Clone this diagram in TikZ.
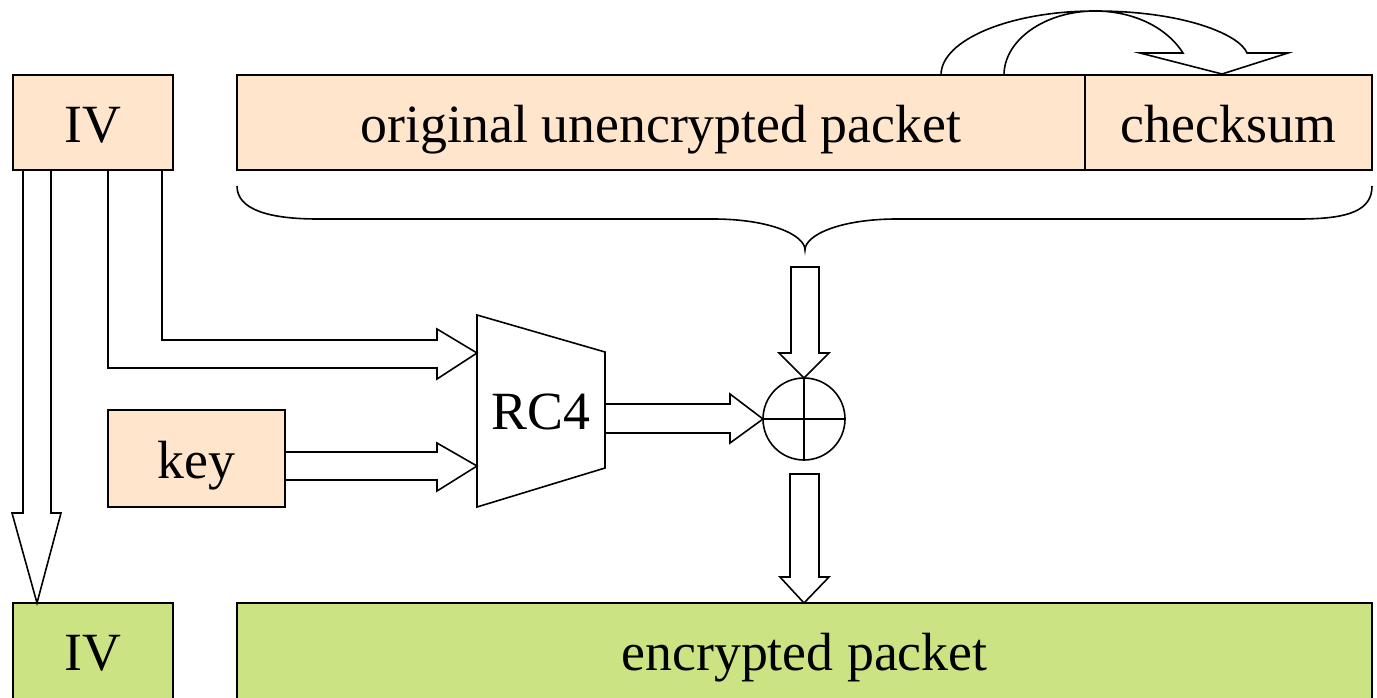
\documentclass[tikz,border=0pt]{standalone}
\usepackage{fontspec}
\setmainfont{Liberation Serif}
\definecolor{peach}{HTML}{FFE5CC}
\definecolor{lgreen}{HTML}{CCE384}
\tikzset{
  box/.style={draw=black, line width=2bp, inner sep=0pt},
  pbox/.style={box, fill=peach},
  gbox/.style={box, fill=lgreen},
  barrow/.style={draw=black, line width=1.6bp, line join=miter, fill=white},
  thin/.style={draw=black, line width=1.6bp},
  lbl/.style={font=\fontsize{54}{60}\selectfont, inner sep=0pt, anchor=base}
}
\begin{document}
\begin{tikzpicture}[x=1bp, y=-1bp]
\path[use as bounding box, clip] (0,0) rectangle (1377,697);
% top boxes
\node[pbox, minimum width=160bp, minimum height=95bp] (ivt) at (93,122.5) {};
\node[lbl] (ivtl) at (93,142) {IV};
\node[pbox, minimum width=848bp, minimum height=95bp] (pkt) at (661,122.5) {};
\node[lbl] (pktl) at (661,142) {original unencrypted packet};
\node[pbox, minimum width=287bp, minimum height=95bp] (chk) at (1228.5,122.5) {};
\node[lbl] (chkl) at (1228.5,142) {checksum};
\node[pbox, minimum width=177bp, minimum height=97bp] (key) at (196.5,458.5) {};
\node[lbl] (keyl) at (196.5,478) {key};
% bottom boxes
\node[gbox, minimum width=160bp, minimum height=110bp] (ivb) at (93,658) {};
\node[lbl] (ivbl) at (93,670) {IV};
\node[gbox, minimum width=1135bp, minimum height=110bp] (enc) at (804.5,658) {};
\node[lbl] (encl) at (804.5,670) {encrypted packet};
% curved arrow over checksum
\draw[barrow, fill=none] (941,75) .. controls (941,40) and (1010,11) .. (1095,11)
  .. controls (1185,11) and (1240,35) .. (1247,53) -- (1288,53) -- (1222,74) -- (1140,53) -- (1183,53)
  .. controls (1165,25) and (1130,11) .. (1095,11)
  .. controls (1045,11) and (1004,40) .. (1004,75);
% brace
\draw[thin] (237,186) .. controls (237,210) and (270,219) .. (318,219) -- (713,219)
  .. controls (770,219) and (805,235) .. (805,250)
  .. controls (805,235) and (840,219) .. (897,219) -- (1299,219)
  .. controls (1350,219) and (1372,210) .. (1372,186);
% RC4
\draw[thin] (477,315) -- (605,352) -- (605,468) -- (477,507) -- cycle;
\node[lbl] (rc4) at (541,429) {RC4};
% XOR
\coordinate (xc) at (804,419);
\draw[thin] (xc) circle[radius=41];
\draw[thin] (763,419) -- (845,419) (804,378) -- (804,460);
% IV down arrow
\draw[barrow, fill=none] (23,171) -- (23,513) -- (12,513) -- (37,603) -- (61,513) -- (51,513) -- (51,171);
% IV to RC4
\draw[barrow, fill=none] (108,171) -- (108,368) -- (437,368) -- (437,379) -- (477,353) -- (437,329) -- (437,340) -- (162,340) -- (162,171);
% key to RC4
\draw[barrow, fill=none] (285,452) -- (437,452) -- (437,443) -- (477,466) -- (437,491) -- (437,480) -- (285,480);
% RC4 to XOR
\draw[barrow, fill=none] (605,404) -- (730,404) -- (730,394) -- (763,419) -- (730,443) -- (730,433) -- (605,433);
% brace to XOR
\draw[barrow] (791,267) -- (819,267) -- (819,353) -- (829,353) -- (804,378) -- (779,353) -- (791,353) -- cycle;
% XOR to encrypted
\draw[barrow] (790,474) -- (819,474) -- (819,577) -- (829,577) -- (804,603) -- (780,577) -- (790,577) -- cycle;
\end{tikzpicture}
\end{document}
